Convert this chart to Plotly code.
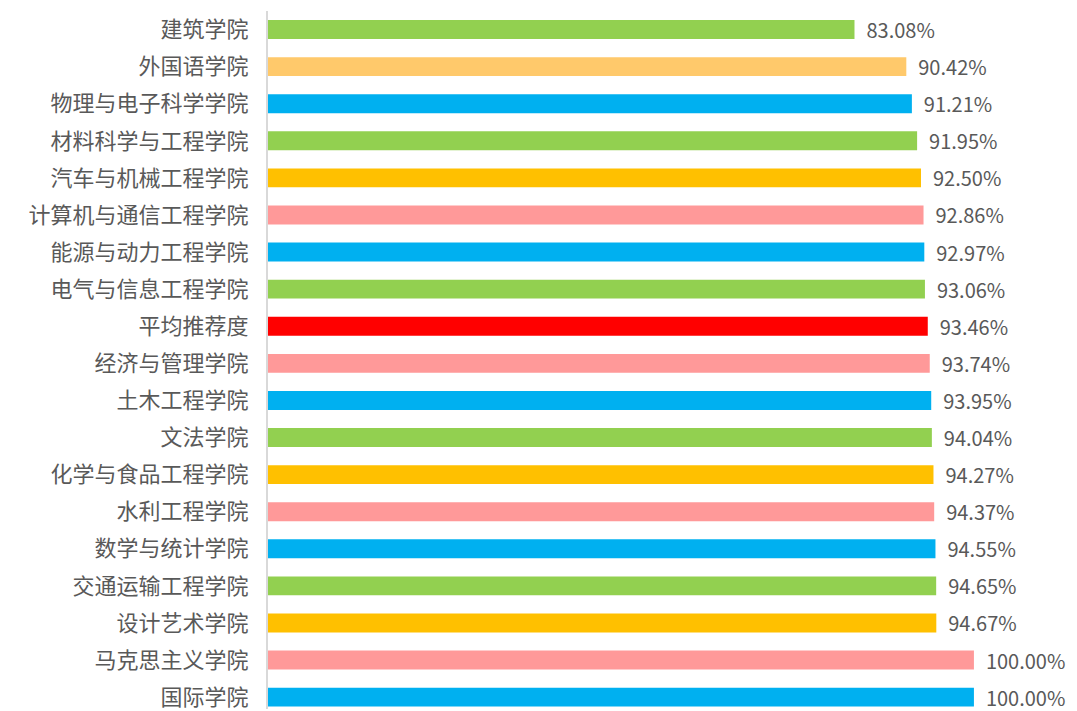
import plotly.graph_objects as go

categories = ["建筑学院", "外国语学院", "物理与电子科学学院", "材料科学与工程学院", "汽车与机械工程学院",
              "计算机与通信工程学院", "能源与动力工程学院", "电气与信息工程学院", "平均推荐度", "经济与管理学院",
              "土木工程学院", "文法学院", "化学与食品工程学院", "水利工程学院", "数学与统计学院",
              "交通运输工程学院", "设计艺术学院", "马克思主义学院", "国际学院"]
values = [83.08, 90.42, 91.21, 91.95, 92.50, 92.86, 92.97, 93.06, 93.46, 93.74,
          93.95, 94.04, 94.27, 94.37, 94.55, 94.65, 94.67, 100.00, 100.00]
colors = ["#92D050", "#FFC96B", "#00B0F0", "#92D050", "#FFC000", "#FF9999", "#00B0F0", "#92D050",
          "#FF0000", "#FF9999", "#00B0F0", "#92D050", "#FFC000", "#FF9999", "#00B0F0", "#92D050",
          "#FFC000", "#FF9999", "#00B0F0"]

# bottom-to-top order for plotting
cats = categories[::-1]
vals = values[::-1]
cols = colors[::-1]

font_family = "Noto Sans CJK SC"

fig = go.Figure(go.Bar(
    y=cats, x=vals, orientation="h",
    marker=dict(color=cols, line=dict(width=0)),
    width=0.51,
    text=["  %.2f%%" % v for v in vals],
    textposition="outside",
    constraintext="none",
    textfont=dict(family=font_family, size=20, color="#595959"),
    cliponaxis=False,
))

fig.update_layout(
    width=1069, height=703,
    margin=dict(l=260, r=0, t=3, b=0),
    plot_bgcolor="white", paper_bgcolor="white",
    showlegend=False,
    xaxis=dict(range=[0, 114.6], visible=False),
    yaxis=dict(
        categoryorder="array", categoryarray=cats,
        range=[-0.32, 18.5],
        showline=True, linecolor="#D9D9D9", linewidth=2,
        ticks="", ticklabelstandoff=13,
        tickfont=dict(family=font_family, size=22, color="#595959"),
        showgrid=False, zeroline=False,
    ),
)

fig.write_html("out.html")
